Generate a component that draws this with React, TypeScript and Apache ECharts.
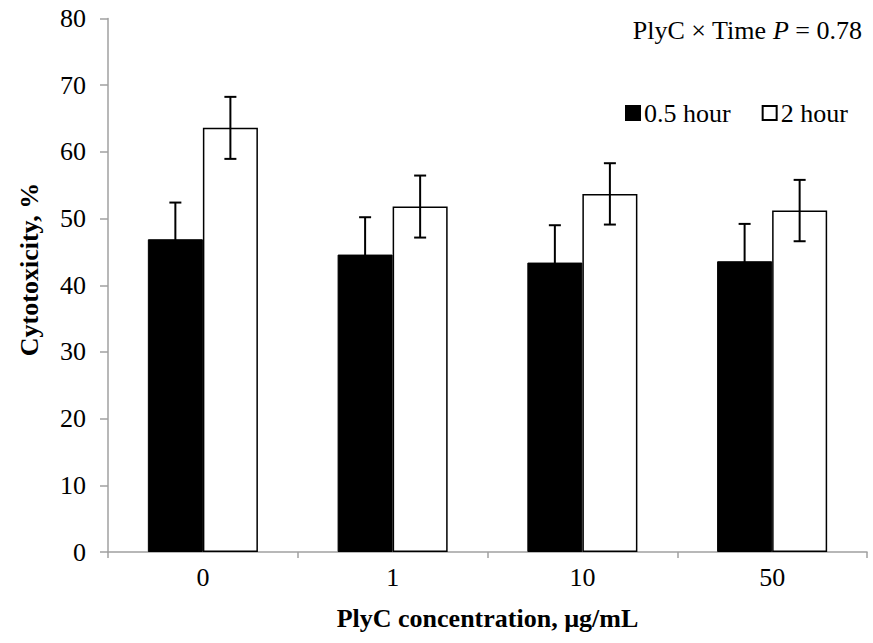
import React, { useEffect, useRef } from "react";
import * as echarts from "echarts";

const categories = ["0", "1", "10", "50"];
const seriesNames = ["0.5 hour", "2 hour"];
const halfHourMean = [46.9, 44.6, 43.4, 43.6];
const halfHourErr = [5.5, 5.6, 5.6, 5.6];
const twoHourMean = [63.6, 51.8, 53.7, 51.2];
const twoHourErr = [4.65, 4.65, 4.6, 4.6];
const yTicks = { min: 0, max: 80, interval: 10 };
const xTitle = "PlyC concentration, µg/mL";
const yTitle = "Cytotoxicity, %";

const FONT = "'Liberation Serif', 'Times New Roman', serif";
const AXIS_COLOR = "#a0a0a0";
const BAR_FRACTION = 0.58; // share of category band occupied by the two bars

function errorRenderer(side: number) {
  return (params: any, api: any) => {
    const idx = api.value(0);
    const mean = api.value(1);
    const err = api.value(2);
    const band = api.size([1, 0])[0];
    const barW = (band * BAR_FRACTION) / 2;
    const center = api.coord([idx, mean]);
    const x = center[0] + (side * barW) / 2;
    const top = api.coord([idx, mean + err])[1];
    const bot = api.coord([idx, mean - err])[1];
    const cap = 6;
    const style = { stroke: "#000", lineWidth: 2 };
    return {
      type: "group",
      children: [
        { type: "line", shape: { x1: x, y1: top, x2: x, y2: bot }, style },
        { type: "line", shape: { x1: x - cap, y1: top, x2: x + cap, y2: top }, style },
        { type: "line", shape: { x1: x - cap, y1: bot, x2: x + cap, y2: bot }, style },
      ],
    };
  };
}

export default function App() {
  const ref = useRef<HTMLDivElement>(null);
  useEffect(() => {
    if (!ref.current) return;
    const chart = echarts.init(ref.current, undefined, { renderer: "svg" });
    chart.setOption({
      animation: false,
      backgroundColor: "#fff",
      textStyle: { fontFamily: FONT, color: "#000" },
      title: {
        text: "PlyC × Time {i|P} = 0.78",
        right: 6,
        top: 12,
        textStyle: {
          fontFamily: FONT,
          fontSize: 26,
          fontWeight: "normal",
          color: "#000",
          rich: {
            i: { fontFamily: FONT, fontSize: 26, fontStyle: "italic", color: "#000" },
          },
        },
      },
      legend: {
        data: seriesNames,
        left: 620,
        top: 95,
        icon: "rect",
        itemWidth: 14,
        itemHeight: 14,
        itemGap: 31,
        textStyle: { fontFamily: FONT, fontSize: 26, color: "#000", padding: [0, 0, 0, -1] },
      },
      graphic: [
        {
          type: "text",
          x: 29,
          y: 269.5,
          rotation: Math.PI / 2,
          style: {
            text: yTitle,
            fontFamily: FONT,
            fontSize: 26,
            fontWeight: "bold",
            fill: "#000",
            align: "center",
            verticalAlign: "middle",
          },
        },
      ],
      grid: { left: 108, right: 6, top: 18.5, bottom: 91, containLabel: false },
      xAxis: {
        type: "category",
        data: categories,
        name: xTitle,
        nameLocation: "middle",
        nameGap: 53,
        nameTextStyle: { fontFamily: FONT, fontSize: 26, fontWeight: "bold", color: "#000" },
        axisLine: { show: true, lineStyle: { color: AXIS_COLOR, width: 1.5 } },
        axisTick: { show: true, length: 6, interval: 0, lineStyle: { color: AXIS_COLOR, width: 1.5 } },
        axisLabel: { fontFamily: FONT, fontSize: 26, color: "#000", margin: 12 },
        splitLine: { show: false },
      },
      yAxis: {
        type: "value",
        min: yTicks.min,
        max: yTicks.max,
        interval: yTicks.interval,
        axisLine: { show: true, lineStyle: { color: AXIS_COLOR, width: 1.5 } },
        axisTick: { show: true, length: 8, lineStyle: { color: AXIS_COLOR, width: 1.5 } },
        axisLabel: { fontFamily: FONT, fontSize: 26, color: "#000", margin: 22 },
        splitLine: { show: false },
      },
      series: [
        {
          name: seriesNames[0],
          type: "bar",
          data: halfHourMean,
          barGap: "0%",
          barCategoryGap: "42%",
          itemStyle: { color: "#000", borderColor: "#000", borderWidth: 1 },
          z: 2,
        },
        {
          name: seriesNames[1],
          type: "bar",
          data: twoHourMean,
          barGap: "0%",
          barCategoryGap: "42%",
          itemStyle: { color: "#fff", borderColor: "#000", borderWidth: 1.5 },
          z: 2,
        },
        {
          type: "custom",
          renderItem: errorRenderer(-1),
          data: halfHourMean.map((m, i) => [i, m, halfHourErr[i]]),
          encode: { x: 0, y: 1 },
          z: 5,
          silent: true,
        },
        {
          type: "custom",
          renderItem: errorRenderer(1),
          data: twoHourMean.map((m, i) => [i, m, twoHourErr[i]]),
          encode: { x: 0, y: 1 },
          z: 5,
          silent: true,
        },
      ],
    });
    return () => chart.dispose();
  }, []);
  return (
    <div
      ref={ref}
      style={{ position: "fixed", left: 0, top: 0, width: 873, height: 643, background: "#fff" }}
    />
  );
}
